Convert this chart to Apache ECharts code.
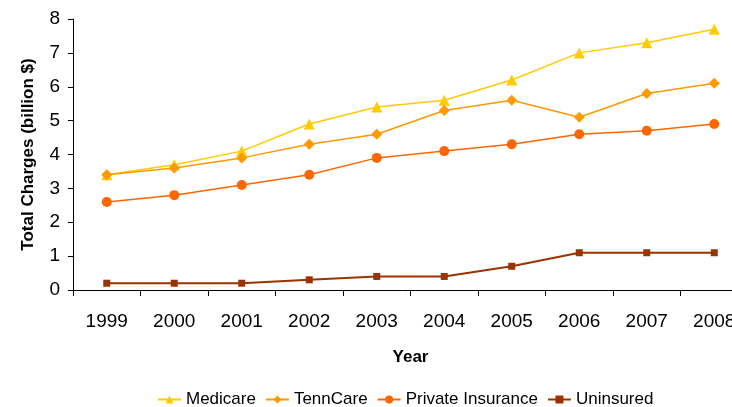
<!DOCTYPE html>
<html>
<head>
<meta charset="utf-8">
<script src="https://cdn.jsdelivr.net/npm/echarts@6/dist/echarts.min.js"></script>
<style>
  html, body { margin: 0; padding: 0; background: #fff; }
  #chart { width: 732px; height: 407px; }
</style>
</head>
<body>
<div id="chart"></div>
<script>
// Annual hospital charges by payer, billions of dollars
const years = ['1999', '2000', '2001', '2002', '2003', '2004', '2005', '2006', '2007', '2008'];
const medicare = [3.4, 3.7, 4.1, 4.9, 5.4, 5.6, 6.2, 7.0, 7.3, 7.7];
const tenncare = [3.4, 3.6, 3.9, 4.3, 4.6, 5.3, 5.6, 5.1, 5.8, 6.1];
const privateIns = [2.6, 2.8, 3.1, 3.4, 3.9, 4.1, 4.3, 4.6, 4.7, 4.9];
const uninsured = [0.2, 0.2, 0.2, 0.3, 0.4, 0.4, 0.7, 1.1, 1.1, 1.1];

const font = 'Arial, "Liberation Sans", sans-serif';

function lineSeries(name, data, color, symbol, size, width) {
  return {
    name: name,
    type: 'line',
    data: data,
    symbol: symbol,
    symbolSize: size,
    showAllSymbol: true,
    animation: false,
    lineStyle: { color: color, width: width },
    itemStyle: { color: color, borderWidth: 0 },
    emphasis: { disabled: true }
  };
}

const chart = echarts.init(document.getElementById('chart'), null, { renderer: 'canvas' });
chart.setOption({
  animation: false,
  backgroundColor: '#ffffff',
  // plot area runs past the right edge, so the last label is cut off
  grid: { left: 73, top: 19, bottom: 117, right: -16, containLabel: false, outerBoundsMode: 'none' },
  legend: {
    top: 386,
    left: 152,
    itemWidth: 23,
    itemHeight: 10,
    itemGap: 9,
    textStyle: { fontFamily: font, fontSize: 17, color: '#000' },
    data: ['Medicare', 'TennCare', 'Private Insurance', 'Uninsured']
  },
  xAxis: {
    type: 'category',
    data: years,
    boundaryGap: true,
    name: 'Year',
    nameLocation: 'middle',
    nameGap: 59,
    nameTextStyle: { fontFamily: font, fontSize: 17, fontWeight: 'bold', color: '#000' },
    axisLine: { lineStyle: { color: '#000', width: 1 } },
    axisTick: { show: true, length: 6, alignWithLabel: false, lineStyle: { color: '#000' } },
    axisLabel: { fontFamily: font, fontSize: 19, color: '#000', margin: 22, interval: 0 },
    splitLine: { show: false }
  },
  yAxis: {
    type: 'value',
    min: 0,
    max: 8,
    interval: 1,
    name: 'Total Charges (billion $)',
    nameLocation: 'middle',
    nameGap: 36,
    nameRotate: 90,
    nameTextStyle: { fontFamily: font, fontSize: 17, fontWeight: 'bold', color: '#000' },
    axisLine: { show: true, lineStyle: { color: '#000', width: 1 } },
    axisTick: { show: true, length: 5, inside: false, lineStyle: { color: '#000' } },
    axisLabel: { fontFamily: font, fontSize: 19, color: '#000', margin: 13 },
    splitLine: { show: false }
  },
  series: [
    lineSeries('Medicare', medicare, '#FFCC00', 'triangle', 11, 1.5),
    lineSeries('TennCare', tenncare, '#FF9900', 'diamond', 11, 1.5),
    lineSeries('Private Insurance', privateIns, '#FF6600', 'circle', 10, 1.5),
    lineSeries('Uninsured', uninsured, '#993300', 'rect', 7, 2)
  ]
});
</script>
</body>
</html>
